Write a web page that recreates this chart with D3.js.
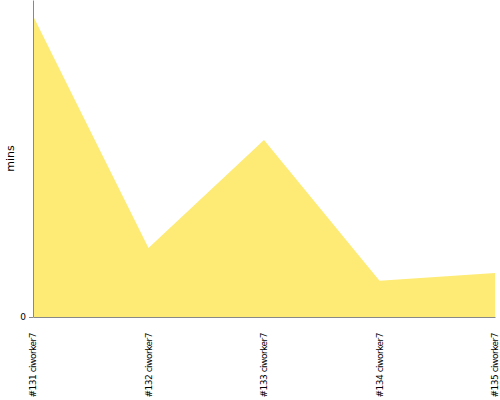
<!DOCTYPE html>
<html>
<head>
<meta charset="utf-8">
<script src="https://cdn.jsdelivr.net/npm/d3@7"></script>
<style>
  body { margin: 0; background: #fff; }
  svg { display: block; font-family: "DejaVu Sans", sans-serif; }
</style>
</head>
<body>
<svg id="chart" width="500" height="400"></svg>
<script>
// builds, in order
const builds = ["#131 ciworker7", "#132 ciworker7", "#133 ciworker7", "#134 ciworker7", "#135 ciworker7"];
const mins = [95, 21.8, 55.8, 11.4, 13.9];
const yTicks = [0];

const margin = { top: 0, right: 5, bottom: 83, left: 33 };
const width = 500, height = 400;

const svg = d3.select("#chart");

const x = d3.scalePoint()
  .domain(builds)
  .range([margin.left, width - margin.right]);

const y = d3.scaleLinear()
  .domain([0, 100])
  .range([height - margin.bottom, margin.top]);

const area = d3.area()
  .x((d, i) => x(builds[i]))
  .y0(y(0))
  .y1(d => y(d));

svg.append("path")
  .datum(mins)
  .attr("fill", "#fdeb75")
  .attr("d", area);

// y axis
const yAxis = svg.append("g")
  .attr("transform", `translate(${margin.left},0)`)
  .call(d3.axisLeft(y).tickValues(yTicks).tickSize(4).tickSizeOuter(0));
yAxis.select(".domain").attr("stroke", "#888");
yAxis.selectAll(".tick line").attr("stroke", "#888");
yAxis.selectAll(".tick text").attr("font-size", 9).attr("fill", "#000")
  .attr("font-family", "DejaVu Sans, sans-serif");

// x axis
const xAxis = svg.append("g")
  .attr("transform", `translate(0,${y(0)})`)
  .call(d3.axisBottom(x).tickSize(0).tickSizeOuter(0));
xAxis.select(".domain").attr("stroke", "#888");
xAxis.selectAll(".tick text")
  .attr("font-size", 9)
  .attr("fill", "#000")
  .attr("font-family", "DejaVu Sans, sans-serif")
  .attr("text-anchor", "end")
  .attr("transform", "rotate(-90)")
  .attr("x", -16)
  .attr("y", 0)
  .attr("dy", "0.32em")
  .style("letter-spacing", "-0.5px");

// y label
svg.append("text")
  .attr("transform", `translate(14,${(y(0) + margin.top) / 2}) rotate(-90)`)
  .attr("text-anchor", "middle")
  .attr("font-size", 11)
  .attr("fill", "#000")
  .text("mins");
</script>
</body>
</html>
